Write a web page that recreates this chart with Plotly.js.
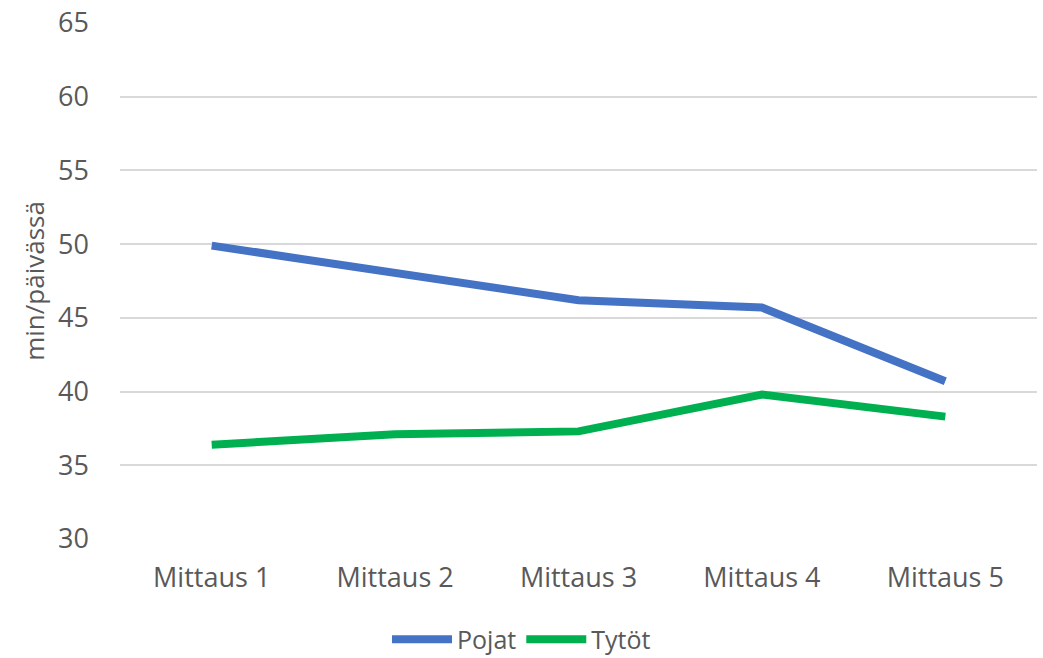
<!DOCTYPE html>
<html><head><meta charset="utf-8">
<script src="https://cdn.plot.ly/plotly-3.0.1.min.js"></script>
<style>body{margin:0;background:#fff}</style>
</head><body>
<div id="chart" style="width:1043px;height:658px"></div>
<script>
const categories = ["Mittaus 1","Mittaus 2","Mittaus 3","Mittaus 4","Mittaus 5"];
const pojat = [49.9, 48.1, 46.2, 45.7, 40.7];
const tytot = [36.4, 37.1, 37.3, 39.8, 38.3];
const yTicks = [30,35,40,45,50,55,60,65];

const font = {family: "Open Sans, Liberation Sans, sans-serif", color: "#595959"};
const traces = [
  {x: categories, y: pojat, name: "Pojat", type: "scatter", mode: "lines",
   line: {color: "#4472C4", width: 8}},
  {x: categories, y: tytot, name: "Tytöt", type: "scatter", mode: "lines",
   line: {color: "#00B050", width: 8}}
];
const layout = {
  width: 1043, height: 658,
  margin: {l: 120, r: 6, t: 23, b: 119, autoexpand: false},
  paper_bgcolor: "#fff", plot_bgcolor: "#fff",
  font: Object.assign({size: 27}, font),
  showlegend: true,
  legend: {orientation: "h", x: 0.5, xref: "container", xanchor: "center", y: -0.195, yanchor: "middle",
           font: Object.assign({size: 25}, font), itemwidth: 60, traceorder: "normal"},
  xaxis: {type: "category", range: [-0.5, 4.5], showgrid: false, zeroline: false, automargin: false,
          showline: false, ticks: "", tickfont: Object.assign({size: 27}, font), ticklabelstandoff: 20},
  yaxis: {range: [30, 65], tickvals: yTicks, ticktext: yTicks.map(String), showgrid: true, automargin: false,
          gridcolor: "#d9d9d9", gridwidth: 1.5, zeroline: false, showline: false, ticks: "",
          tickfont: Object.assign({size: 27}, font), ticklabelstandoff: 30,
          title: {text: "min/päivässä", font: Object.assign({size: 26}, font), standoff: 6}}
};
Plotly.newPlot("chart", traces, layout, {displayModeBar: false});
</script>
</body></html>
